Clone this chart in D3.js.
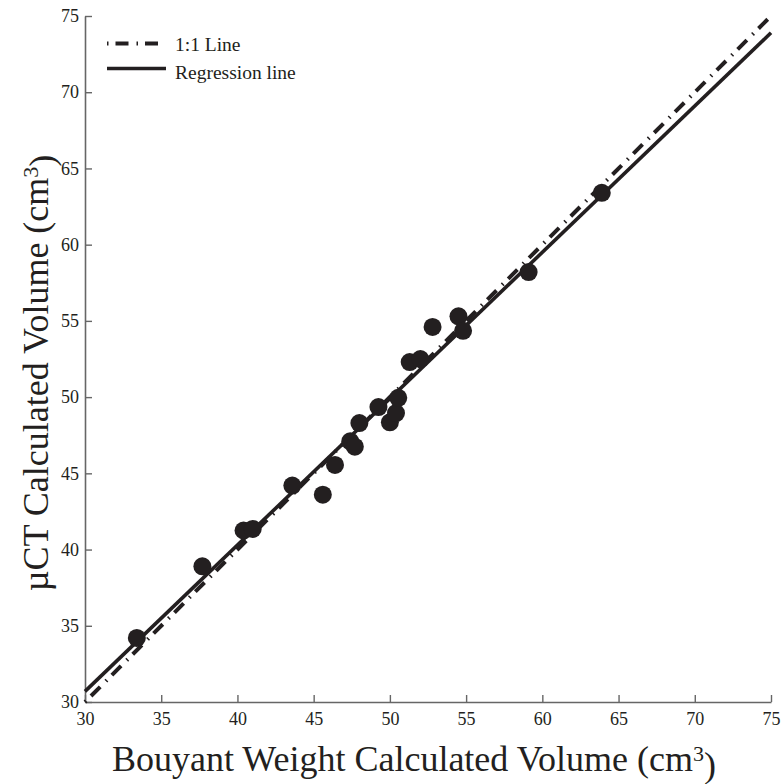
<!DOCTYPE html>
<html>
<head>
<meta charset="utf-8">
<script src="https://cdn.jsdelivr.net/npm/d3@7"></script>
<style>
  body { margin: 0; background: #fff; }
  svg { display: block; }
  text { font-family: "Liberation Serif", "Times New Roman", serif; fill: #231f20; }
</style>
</head>
<body>
<svg id="chart" width="784" height="784"></svg>
<script>
// Data
const bouyantX = [33.4, 37.7, 40.4, 41.0, 43.6, 45.6, 46.4, 47.4, 47.7, 48.0, 49.25, 50.0, 50.4, 50.55, 51.3, 52.0, 52.8, 54.5, 54.8, 59.1, 63.9];
const microCTY = [34.2, 38.9, 41.25, 41.35, 44.2, 43.6, 45.55, 47.1, 46.75, 48.3, 49.35, 48.35, 48.95, 49.95, 52.3, 52.5, 54.6, 55.3, 54.35, 58.2, 63.4];
const xTicks = [30, 35, 40, 45, 50, 55, 60, 65, 70, 75];
const yTicks = [30, 35, 40, 45, 50, 55, 60, 65, 70, 75];
const oneToOne = [[30, 30], [75, 75]];
const regSlope = 0.96, regIntercept = 1.9;
const regression = [[30, 30 * regSlope + regIntercept], [75, 75 * regSlope + regIntercept]];
const legendItems = ["1:1 Line", "Regression line"];

const svg = d3.select("#chart");
const ink = "#231f20";
const serif = '"Liberation Serif", "Times New Roman", serif';
const x = d3.scaleLinear().domain([30, 75]).range([85, 771]);
const y = d3.scaleLinear().domain([30, 75]).range([702, 16]);

// Axes
const xAxis = d3.axisBottom(x).tickValues(xTicks).tickSizeInner(-7).tickSizeOuter(0).tickPadding(10);
const yAxis = d3.axisLeft(y).tickValues(yTicks).tickSizeInner(-7).tickSizeOuter(0).tickPadding(6);

const gx = svg.append("g").attr("transform", `translate(0,${y(30)})`).call(xAxis);
const gy = svg.append("g").attr("transform", `translate(${x(30)},0)`).call(yAxis);
[gx, gy].forEach(g => {
  g.attr("font-family", serif).attr("font-size", 18);
  g.select(".domain").attr("stroke", "#666").attr("stroke-width", 1.6);
  g.selectAll(".tick line").attr("stroke", "#666").attr("stroke-width", 1.4);
  g.selectAll(".tick text").attr("fill", ink).attr("font-family", serif).style("font-size", "18px");
});
gx.selectAll(".tick text").attr("dy", "0.71em");

// Lines
const line = d3.line().x(d => x(d[0])).y(d => y(d[1]));
svg.append("path").datum(oneToOne).attr("d", line)
  .attr("fill", "none").attr("stroke", ink).attr("stroke-width", 4)
  .attr("stroke-dasharray", "1.5,7,13,8");
svg.append("path").datum(regression).attr("d", line)
  .attr("fill", "none").attr("stroke", ink).attr("stroke-width", 3.6);

// Points
svg.append("g").selectAll("circle").data(bouyantX).join("circle")
  .attr("cx", d => x(d))
  .attr("cy", (d, i) => y(microCTY[i]))
  .attr("r", 9)
  .attr("fill", ink);

// Legend
const lg = svg.append("g");
lg.append("line").attr("x1", 107).attr("x2", 166).attr("y1", 43.5).attr("y2", 43.5)
  .attr("stroke", ink).attr("stroke-width", 4).attr("stroke-dasharray", "1.5,7,13,8");
lg.append("line").attr("x1", 107).attr("x2", 166).attr("y1", 68.5).attr("y2", 68.5)
  .attr("stroke", ink).attr("stroke-width", 3.6);
lg.selectAll("text").data(legendItems).join("text")
  .attr("x", 175).attr("y", (d, i) => 51 + i * 27.5)
  .attr("font-family", serif)
  .style("font-size", "19.5px").text(d => d);

// Axis titles
const xt = svg.append("text").attr("x", 414).attr("y", 771).attr("text-anchor", "middle")
  .attr("font-family", serif).style("font-size", "36px");
xt.append("tspan").text("Bouyant Weight Calculated Volume (cm");
xt.append("tspan").attr("dy", "-0.45em").style("font-size", "22px").text("3");
xt.append("tspan").attr("dy", "0.45em").text(")");

const yt = svg.append("text").attr("transform", "translate(48,373) rotate(-90)").attr("text-anchor", "middle")
  .attr("font-family", serif).style("font-size", "36px");
yt.append("tspan").text("µCT Calculated Volume (cm");
yt.append("tspan").attr("dy", "-0.45em").style("font-size", "22px").text("3");
yt.append("tspan").attr("dy", "0.45em").text(")");
</script>
</body>
</html>
